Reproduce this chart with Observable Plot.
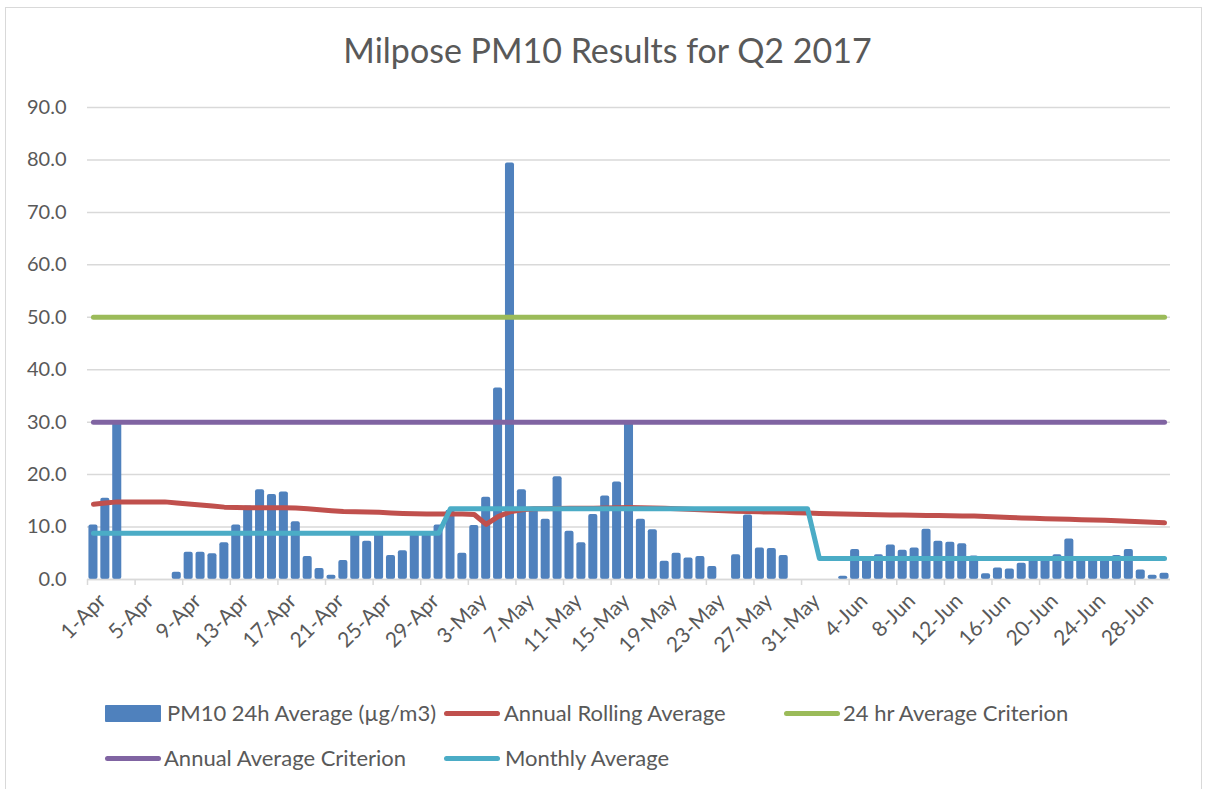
<!DOCTYPE html>
<html><head><meta charset="utf-8">
<script src="https://cdn.jsdelivr.net/npm/d3@7"></script>
<script src="https://cdn.jsdelivr.net/npm/@observablehq/plot@0.6"></script>
<style>
body{margin:0;background:#fff;font-family:Lato,"Open Sans",sans-serif;}
#wrap{position:relative;width:1207px;height:789px;overflow:hidden;background:#fff;}
#frame{position:absolute;left:5px;top:7px;width:1197px;height:800px;border:1px solid #d9d9d9;box-sizing:border-box;}
#title{position:absolute;left:4px;top:33px;width:1207px;text-align:center;font-size:34px;line-height:1;color:#595959;}
#chart{position:absolute;left:0;top:80px;}
.leg{position:absolute;font-size:22px;line-height:1;color:#595959;white-space:nowrap;}
.sw{position:absolute;}
</style></head>
<body>
<div id="wrap">
  <div id="frame"></div>
  <div id="title">Milpose PM10 Results for Q2 2017</div>
  <div id="chart"></div>
  <div class="sw" style="left:105px;top:705px;width:56px;height:17px;background:#4F81BD;border-radius:1px"></div>
  <div class="leg" style="left:167px;top:702px">PM10 24h Average (µg/m3)</div>
  <div class="sw" style="left:444px;top:711px;width:56px;height:5px;background:#C0504D;border-radius:3px"></div>
  <div class="leg" style="left:504px;top:702px">Annual Rolling Average</div>
  <div class="sw" style="left:784px;top:711px;width:56px;height:5px;background:#9BBB59;border-radius:3px"></div>
  <div class="leg" style="left:843px;top:702px">24 hr Average Criterion</div>
  <div class="sw" style="left:105px;top:756px;width:56px;height:5px;background:#8064A2;border-radius:3px"></div>
  <div class="leg" style="left:164px;top:747px">Annual Average Criterion</div>
  <div class="sw" style="left:444px;top:756px;width:56px;height:5px;background:#4BACC6;border-radius:3px"></div>
  <div class="leg" style="left:505px;top:747px">Monthly Average</div>
</div>
<script>
// Categories (days of Q2 2017)
const aprDays = ["1-Apr","2-Apr","3-Apr","4-Apr","5-Apr","6-Apr","7-Apr","8-Apr","9-Apr","10-Apr","11-Apr","12-Apr","13-Apr","14-Apr","15-Apr","16-Apr","17-Apr","18-Apr","19-Apr","20-Apr","21-Apr","22-Apr","23-Apr","24-Apr","25-Apr","26-Apr","27-Apr","28-Apr","29-Apr","30-Apr"];
const mayDays = ["1-May","2-May","3-May","4-May","5-May","6-May","7-May","8-May","9-May","10-May","11-May","12-May","13-May","14-May","15-May","16-May","17-May","18-May","19-May","20-May","21-May","22-May","23-May","24-May","25-May","26-May","27-May","28-May","29-May","30-May","31-May"];
const junDays = ["1-Jun","2-Jun","3-Jun","4-Jun","5-Jun","6-Jun","7-Jun","8-Jun","9-Jun","10-Jun","11-Jun","12-Jun","13-Jun","14-Jun","15-Jun","16-Jun","17-Jun","18-Jun","19-Jun","20-Jun","21-Jun","22-Jun","23-Jun","24-Jun","25-Jun","26-Jun","27-Jun","28-Jun","29-Jun","30-Jun"];

// PM10 24h average (µg/m3); null = no data
const pm10Apr = [10.4,15.5,30.0,null,null,null,null,1.4,5.2,5.2,4.9,7.0,10.4,14.0,17.1,16.2,16.7,11.0,4.4,2.1,0.8,3.6,9.0,7.3,9.0,4.6,5.5,9.0,9.0,10.4];
const pm10May = [13.2,5.0,10.3,15.7,36.5,79.4,17.1,13.4,11.5,19.6,9.2,7.0,12.4,15.9,18.6,30.3,11.5,9.5,3.5,5.0,4.1,4.4,2.5,null,4.7,12.3,6.0,5.9,4.6,null,null];
const pm10Jun = [null,null,0.6,5.7,4.3,4.7,6.6,5.6,6.0,9.6,7.3,7.1,6.8,4.5,1.1,2.2,2.0,3.1,4.0,4.0,4.7,7.7,4.0,4.0,4.0,4.6,5.7,1.8,0.8,1.2];

// Annual rolling average
const rollApr = [14.35,14.6,14.8,14.8,14.8,14.8,14.8,14.6,14.4,14.2,14.0,13.8,13.75,13.7,13.7,13.7,13.7,13.65,13.5,13.3,13.1,12.95,12.9,12.85,12.8,12.7,12.6,12.55,12.5,12.5];
const rollMay = [12.5,12.5,12.4,10.5,12.0,12.9,13.3,13.5,13.5,13.55,13.6,13.6,13.6,13.65,13.7,13.75,13.7,13.65,13.6,13.5,13.4,13.3,13.2,13.1,13.0,12.95,12.9,12.85,12.8,12.75,12.7];
const rollJun = [12.6,12.55,12.5,12.45,12.4,12.35,12.3,12.3,12.25,12.2,12.2,12.15,12.1,12.1,12.0,11.9,11.8,11.75,11.7,11.6,11.55,11.5,11.4,11.35,11.3,11.2,11.1,11.0,10.9,10.8];

// Monthly averages
const monthlyAvg = [8.8, 13.5, 4.0];
// Criteria
const criterion24h = 50;
const criterionAnnual = 30;

const yTicks = [0,10,20,30,40,50,60,70,80,90];
const xTickLabels = ["1-Apr","5-Apr","9-Apr","13-Apr","17-Apr","21-Apr","25-Apr","29-Apr","3-May","7-May","11-May","15-May","19-May","23-May","27-May","31-May","4-Jun","8-Jun","12-Jun","16-Jun","20-Jun","24-Jun","28-Jun"];

const months = [
  {days: aprDays, pm: pm10Apr, roll: rollApr, avg: monthlyAvg[0]},
  {days: mayDays, pm: pm10May, roll: rollMay, avg: monthlyAvg[1]},
  {days: junDays, pm: pm10Jun, roll: rollJun, avg: monthlyAvg[2]}
];
const rows = months.flatMap(m => m.days.map((d, i) => ({day: d, pm10: m.pm[i], roll: m.roll[i], monthly: m.avg, c24: criterion24h, cAnn: criterionAnnual})));
const days = rows.map(r => r.day);

const W = 1207, ML = 87, MR = 37;
const step = (W - ML - MR) / days.length;
const font = "Lato, 'Open Sans', sans-serif";

const chart = Plot.plot({
  width: W, height: 610,
  marginLeft: ML, marginRight: MR, marginTop: 27, marginBottom: 111,
  style: {fontFamily: font, color: "#595959", background: "transparent", overflow: "visible"},
  x: {type: "band", domain: days, paddingInner: 0.24, paddingOuter: 0.12},
  y: {domain: [0, 90]},
  marks: [
    Plot.gridY(yTicks, {stroke: "#d9d9d9", strokeOpacity: 1, strokeWidth: 1.5}),
    Plot.axisY(yTicks, {tickSize: 0, tickPadding: 21, fontSize: 20, tickFormat: d => d.toFixed(1), label: null}),
    Plot.barY(rows.filter(r => r.pm10 != null), {x: "day", y: "pm10", fill: "#4F81BD", rx: 2}),
    Plot.ruleY([0], {stroke: "#d9d9d9", strokeWidth: 1.5}),
    Plot.axisX(xTickLabels, {tickSize: 6, stroke: "#d9d9d9", strokeWidth: 1.5, text: null, dx: -step / 2, label: null}),
    Plot.axisX(xTickLabels, {tickSize: 0, tickPadding: 18, tickRotate: -45, fontSize: 21, dx: 9, label: null}),
    Plot.lineY(rows, {x: "day", y: "roll", stroke: "#C0504D", strokeWidth: 5}),
    Plot.lineY(rows, {x: "day", y: "c24", stroke: "#9BBB59", strokeWidth: 5}),
    Plot.lineY(rows, {x: "day", y: "cAnn", stroke: "#8064A2", strokeWidth: 5}),
    Plot.lineY(rows, {x: "day", y: "monthly", stroke: "#4BACC6", strokeWidth: 5})
  ]
});
document.getElementById("chart").appendChild(chart);
</script>
</body></html>
